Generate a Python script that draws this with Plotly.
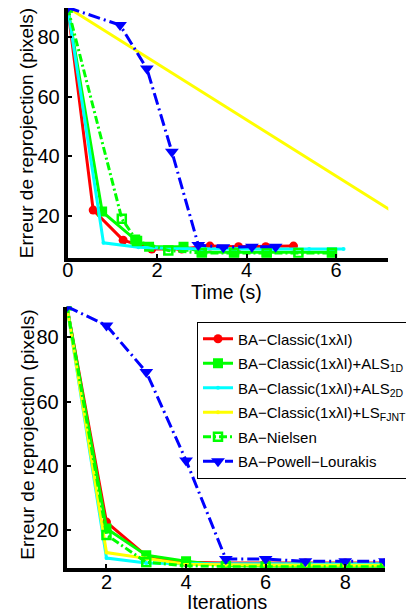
import plotly.graph_objects as go

# ---------------- data ----------------
names = [
    "BA−Classic(1xλI)",
    "BA−Classic(1xλI)+ALS<sub>1D</sub>",
    "BA−Classic(1xλI)+ALS<sub>2D</sub>",
    "BA−Classic(1xλI)+LS<sub>FJNT</sub>",
    "BA−Nielsen",
    "BA−Powell−Lourakis",
]

# top panel: error vs time (s)
t_classic = [0, 0.57, 1.24, 1.88, 2.55, 3.18, 3.82, 4.43, 5.05]
e_classic = [90, 21.9, 11.8, 8.8, 8.8, 9.8, 9.6, 9.6, 9.8]
t_als1d = [0, 0.77, 1.51, 1.82, 2.59, 3.0, 3.72, 4.45, 5.91]
e_als1d = [90, 21.4, 12.0, 9.6, 9.6, 7.8, 7.7, 7.7, 7.7]
t_als2d = [0, 0.80, 1.58, 2.3, 3.0, 3.8, 4.6, 5.4, 6.17]
e_als2d = [90, 10.9, 9.4, 9.0, 8.9, 8.8, 8.8, 8.8, 8.8]
t_lsfjnt = [0, 8.16, 9.5, 10.8, 12.1, 13.4, 14.7, 16.0, 17.3]
e_lsfjnt = [90, 13.0, 11.2, 9.4, 9.2, 9.1, 9.1, 9.1, 9.1]
t_nielsen = [0, 1.21, 1.55, 2.25, 3.0, 3.72, 4.45, 5.16, 5.91]
e_nielsen = [90, 19.0, 11.5, 8.3, 7.5, 7.5, 7.5, 7.5, 7.5]
t_powell = [0, 1.17, 1.77, 2.33, 2.92, 3.48, 4.12, 4.65]
e_powell = [90, 84.1, 69.5, 41.5, 10.2, 9.4, 9.6, 9.6]

# bottom panel: error vs iterations
iters = [1, 2, 3, 4, 5, 6, 7, 8, 9]
i_classic = [90, 22.5, 12.0, 10.0, 9.8, 9.8, 9.8, 9.8, 9.8]
i_als1d = [90, 20.5, 12.2, 10.3, 8.9, 8.7, 8.6, 8.6, 8.6]
i_als2d = [90, 11.3, 9.8, 9.5, 9.5, 9.5, 9.5, 9.5, 9.5]
i_lsfjnt = [90, 13.0, 11.2, 9.4, 9.2, 9.1, 9.1, 9.1, 9.1]
i_nielsen = [90, 18.5, 10.0, 8.9, 8.6, 8.6, 8.6, 8.6, 8.6]
i_powell = [89.6, 83.7, 69.2, 41.7, 11.0, 11.0, 10.3, 10.3, 10.3]

x_ticks_time = [0, 2, 4, 6]
x_ticks_iter = [2, 4, 6, 8]
y_ticks = [20, 40, 60, 80]

x_title_top = "Time (s)"
x_title_bot = "Iterations"
y_title = "Erreur de reprojection (pixels)"

# ---------------- styles ----------------
styles = [
    dict(color="#ff0000", dash="solid", symbol="circle", size=9, mline=0),
    dict(color="#00ff00", dash="solid", symbol="square", size=10, mline=0),
    dict(color="#00ffff", dash="solid", symbol="circle", size=4, mline=0),
    dict(color="#ffff00", dash="solid", symbol="circle", size=4, mline=0),
    dict(color="#00ff00", dash="8px,3px,2px,3px", symbol="square-open", size=8, mline=2.5),
    dict(color="#0000ff", dash="12px,4px,2px,4px", symbol="triangle-down", size=12, mline=0),
]

top_series = [
    (t_classic, e_classic), (t_als1d, e_als1d), (t_als2d, e_als2d),
    (t_lsfjnt, e_lsfjnt), (t_nielsen, e_nielsen), (t_powell, e_powell),
]
bot_series = [
    (iters, i_classic), (iters, i_als1d), (iters, i_als2d),
    (iters, i_lsfjnt), (iters, i_nielsen), (iters, i_powell),
]

fig = go.Figure()


def add(xs, ys, st, name, xa, ya, show, group=None):
    marker = dict(symbol=st["symbol"], size=st["size"], color=st["color"])
    if st["mline"]:
        marker["line"] = dict(color=st["color"], width=st["mline"])
    fig.add_trace(go.Scatter(
        x=xs, y=ys, mode="lines+markers", name=name,
        line=dict(color=st["color"], width=3, dash=st["dash"]),
        marker=marker, xaxis=xa, yaxis=ya, showlegend=show,
        cliponaxis=True, legendgroup=group,
    ))


for (xs, ys), st, nm in zip(top_series, styles, names):
    add(xs, ys, st, nm, "x", "y", False)
for k, ((xs, ys), st, nm) in enumerate(zip(bot_series, styles, names)):
    add(xs, ys, st, nm, "x2", "y2", True, group="g%d" % k)

W, H = 414, 614
OFF = 8  # page body margin offset compensation
FONT = "Liberation Sans, Arial, Helvetica, sans-serif"


def fx(px):
    return (px - OFF) / W


def fy(py):
    return 1 - (py - OFF) / H


# top panel geometry (viewport px) -> value scale
top_y_bottom_px, top_y_top_px = 257.7, 8.0
top_ppu = 2.975
top_ymin = 5.9
top_ymax = top_ymin + (top_y_bottom_px - top_y_top_px) / top_ppu

axis_common = dict(
    showline=True, linecolor="black", linewidth=4, mirror=False,
    showgrid=False, zeroline=False, ticks="inside", ticklen=4,
    tickwidth=2, tickcolor="black", automargin=False,
    tickfont=dict(family=FONT, size=20, color="black"),
)

fig.update_layout(
    width=W, height=H,
    margin=dict(l=0, r=0, t=0, b=0, pad=0, autoexpand=False),
    paper_bgcolor="white", plot_bgcolor="white",
    font=dict(family=FONT, color="black"),
    xaxis=dict(axis_common, domain=[fx(67.7), fx(388.3)], range=[0, 7.17],
               tickvals=x_ticks_time, anchor="y", ticklabelstandoff=-9),
    yaxis=dict(axis_common, domain=[fy(top_y_bottom_px), fy(top_y_top_px)],
               range=[top_ymin, top_ymax], tickvals=y_ticks, anchor="x"),
    xaxis2=dict(axis_common, domain=[fx(66.7), fx(385)], range=[1, 9],
                tickvals=x_ticks_iter, anchor="y2", ticklabelstandoff=-7),
    yaxis2=dict(axis_common, domain=[fy(567.7), fy(306.5)], range=[8.3, 89.6],
                tickvals=y_ticks, anchor="x2"),
    legend=dict(
        x=fx(197), y=fy(321.5), xanchor="left", yanchor="top",
        bgcolor="white", bordercolor="black", borderwidth=1,
        font=dict(family=FONT, size=15, color="black"),
        tracegroupgap=2, itemwidth=30,
    ),
    annotations=[
        dict(text=x_title_top, x=fx(226), y=fy(291.7), xref="paper", yref="paper",
             xanchor="center", yanchor="middle", showarrow=False,
             font=dict(family=FONT, size=19.5, color="black")),
        dict(text=x_title_bot, x=fx(226.7), y=fy(601.7), xref="paper", yref="paper",
             xanchor="center", yanchor="middle", showarrow=False,
             font=dict(family=FONT, size=19.5, color="black")),
        dict(text=y_title, x=fx(26.7), y=fy(133.5), xref="paper", yref="paper",
             xanchor="center", yanchor="middle", showarrow=False, textangle=-90,
             font=dict(family=FONT, size=19, color="black")),
        dict(text=y_title, x=fx(26.7), y=fy(435), xref="paper", yref="paper",
             xanchor="center", yanchor="middle", showarrow=False, textangle=-90,
             font=dict(family=FONT, size=19, color="black")),
    ],
)

fig.write_html("out.html")
